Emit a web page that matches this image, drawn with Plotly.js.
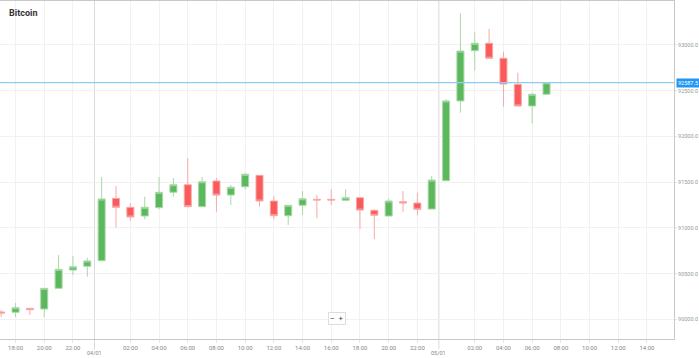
<!DOCTYPE html>
<html><head><meta charset="utf-8">
<script src="https://cdn.plot.ly/plotly-3.0.1.min.js"></script>
<style>html,body{margin:0;padding:0;background:#fff}#chart{width:699px;height:358px}</style>
</head><body><div id="chart"></div>
<script>
const times = [
 '2025-01-03 17:00','2025-01-03 18:00','2025-01-03 19:00','2025-01-03 20:00','2025-01-03 21:00','2025-01-03 22:00','2025-01-03 23:00',
 '2025-01-04 00:00','2025-01-04 01:00','2025-01-04 02:00','2025-01-04 03:00','2025-01-04 04:00','2025-01-04 05:00','2025-01-04 06:00','2025-01-04 07:00',
 '2025-01-04 08:00','2025-01-04 09:00','2025-01-04 10:00','2025-01-04 11:00','2025-01-04 12:00','2025-01-04 13:00','2025-01-04 14:00','2025-01-04 15:00',
 '2025-01-04 16:00','2025-01-04 17:00','2025-01-04 18:00','2025-01-04 19:00','2025-01-04 20:00','2025-01-04 21:00','2025-01-04 22:00','2025-01-04 23:00',
 '2025-01-05 00:00','2025-01-05 01:00','2025-01-05 02:00','2025-01-05 03:00','2025-01-05 04:00','2025-01-05 05:00','2025-01-05 06:00','2025-01-05 07:00'
];
const openV = [90080,90077,90120,90113,90339,90539,90580,
 90641,91323,91225,91130,91221,91389,91472,91232,91513,91359,91450,91575,91294,91133,91247,91312,91312,91301,91330,91192,91130,91286,91272,91206,
 91516,92388,92938,93019,92855,92570,92333,92461];
const highV = [90102,90178,90124,90342,90703,90692,90674,
 91556,91458,91269,91341,91556,91545,91764,91556,91545,91469,91603,91578,91349,91250,91403,91359,91422,91422,91330,91203,91323,91403,91385,91567,
 92406,93347,93139,93175,92927,92697,92478,92588];
const lowV = [90025,90025,90047,90022,90335,90485,90466,
 90641,91006,91078,91094,91203,91341,91232,91228,91177,91250,91422,91232,91094,91031,91141,91105,91250,91301,90988,90878,91130,91177,91137,91206,
 91516,92260,92719,92855,92325,92333,92144,92461];
const closeV = [90069,90127,90105,90339,90547,90575,90638,
 91316,91225,91119,91225,91389,91472,91232,91505,91359,91444,91586,91294,91133,91247,91319,91305,91305,91330,91195,91137,91294,91272,91203,91523,
 92388,92934,93019,92855,92573,92333,92461,92587.5];

const tickVals = ['2025-01-03 18:00','2025-01-03 20:00','2025-01-03 22:00',
 '2025-01-04 02:00','2025-01-04 04:00','2025-01-04 06:00','2025-01-04 08:00','2025-01-04 10:00','2025-01-04 12:00','2025-01-04 14:00','2025-01-04 16:00','2025-01-04 18:00','2025-01-04 20:00','2025-01-04 22:00',
 '2025-01-05 02:00','2025-01-05 04:00','2025-01-05 06:00','2025-01-05 08:00','2025-01-05 10:00','2025-01-05 12:00','2025-01-05 14:00'];
const tickText = ['18:00','20:00','22:00','02:00','04:00','06:00','08:00','10:00','12:00','14:00','16:00','18:00','20:00','22:00',
 '02:00','04:00','06:00','08:00','10:00','12:00','14:00'];
const dayLines = ['2025-01-03 23:30','2025-01-04 23:30'];
const dayLabels = ['04/01','05/01'];
const yTicks = [90000,90500,91000,91500,92000,92500,93000];
const title = 'Bitcoin';

const last = closeV[closeV.length-1];

const trace = {
  type:'candlestick', x:times, open:openV, high:highV, low:lowV, close:closeV,
  whiskerwidth:0,
  increasing:{fillcolor:'#5cb85c', line:{color:'#a9d9a9', width:1}},
  decreasing:{fillcolor:'#fa5a5a', line:{color:'#f8a8a8', width:1}},
  hoverinfo:'skip', showlegend:false
};

const shapes = dayLines.map(d => ({type:'line', xref:'x', yref:'paper', x0:d, x1:d, y0:-0.03, y1:1,
  line:{color:'#dadada', width:1}, layer:'below'}));
shapes.push({type:'line', xref:'paper', yref:'y', x0:0, x1:1, y0:last, y1:last, line:{color:'#8fcbf2', width:1.2}});

const annotations = dayLines.map((d,i) => ({x:d, xref:'x', y:-0.04, yref:'paper', yanchor:'middle', xanchor:'center',
  text:dayLabels[i], showarrow:false, font:{size:5.5, color:'#888', family:'Roboto, sans-serif'}}));
annotations.push({x:1, xref:'paper', xanchor:'left', y:last, yref:'y', yanchor:'middle', xshift:2,
  text:last.toFixed(1), showarrow:false, bgcolor:'#2196f3', borderpad:1,
  font:{size:5.5, color:'#ffffff', family:'Roboto, sans-serif'}});
annotations.push({x:0.5, xref:'paper', y:0.06, yref:'paper', yanchor:'middle', xanchor:'center',
  text:'−  +', showarrow:false, bgcolor:'#ffffff', bordercolor:'#dddddd', borderwidth:1, borderpad:1,
  font:{size:8, color:'#444', family:'Roboto, sans-serif'}});

const layout = {
  width:699, height:358,
  margin:{l:0, r:25, t:1, b:19},
  paper_bgcolor:'#ffffff', plot_bgcolor:'#ffffff',
  title:{text:'<b>'+title+'</b>', x:0.013, xanchor:'left', y:0.965, yanchor:'middle', font:{size:9, color:'#333', family:'Roboto, sans-serif'}},
  xaxis:{type:'date', range:['2025-01-03 16:55','2025-01-05 15:53'], rangeslider:{visible:false},
    tickmode:'array', tickvals:tickVals, ticktext:tickText,
    showgrid:true, gridcolor:'#f1f1f1', gridwidth:1,
    showline:true, linecolor:'#c8c8c8', linewidth:1, mirror:true,
    ticks:'outside', ticklen:3, tickcolor:'#e6e6e6',
    tickfont:{size:6, color:'#888', family:'Roboto, sans-serif'}, zeroline:false, fixedrange:true},
  yaxis:{side:'right', range:[89785,93481], tickmode:'array', tickvals:yTicks, ticktext:yTicks.map(v=>v.toFixed(1)),
    showgrid:true, gridcolor:'#f1f1f1', gridwidth:1,
    showline:true, linecolor:'#c8c8c8', linewidth:1,
    ticks:'outside', ticklen:2, tickcolor:'#e6e6e6',
    tickfont:{size:5.5, color:'#999', family:'Roboto, sans-serif'}, zeroline:false, fixedrange:true},
  shapes:shapes, annotations:annotations
};
Plotly.newPlot('chart',[trace],layout,{displayModeBar:false, staticPlot:true});
</script></body></html>
